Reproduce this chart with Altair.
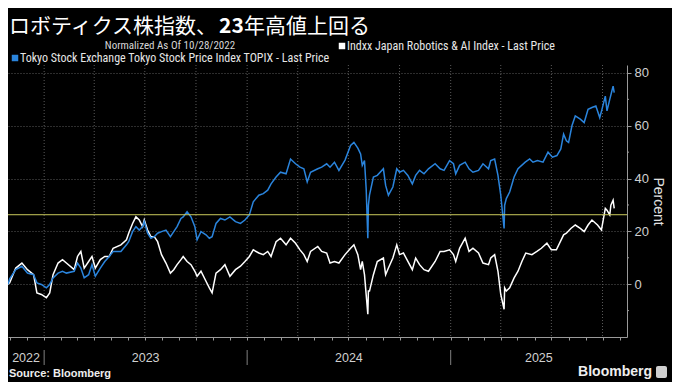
import altair as alt
import pandas as pd

# ---------------- data ----------------
shared_dates = [
    "2022-10-28", "2022-10-31", "2022-11-11", "2022-11-22", "2022-12-02", "2022-12-13",
    "2022-12-19", "2022-12-27", "2023-01-05", "2023-01-11", "2023-01-17", "2023-01-26",
    "2023-02-03", "2023-02-10", "2023-02-24", "2023-03-02", "2023-03-08", "2023-03-14",
    "2023-03-22", "2023-03-28", "2023-04-03", "2023-04-12", "2023-04-20", "2023-04-28",
    "2023-05-05", "2023-05-19", "2023-05-29", "2023-06-02", "2023-06-09", "2023-06-15",
    "2023-06-21", "2023-06-27", "2023-06-30", "2023-07-06", "2023-07-12", "2023-07-18",
    "2023-07-24", "2023-07-31", "2023-08-08", "2023-08-16", "2023-08-22", "2023-08-28",
    "2023-09-04", "2023-09-08", "2023-09-15", "2023-09-22", "2023-09-29", "2023-10-03",
    "2023-10-10", "2023-10-19", "2023-10-25", "2023-10-30", "2023-11-06", "2023-11-14",
    "2023-11-22", "2023-12-01", "2023-12-11", "2023-12-20", "2023-12-28", "2024-01-05",
    "2024-01-12", "2024-01-22", "2024-01-30", "2024-02-07", "2024-02-13", "2024-02-22",
    "2024-03-01", "2024-03-11", "2024-03-19", "2024-03-28", "2024-04-05", "2024-04-12",
    "2024-04-18", "2024-04-24", "2024-05-07", "2024-05-14", "2024-05-23", "2024-05-29",
    "2024-06-06", "2024-06-14", "2024-06-25", "2024-07-05", "2024-07-11", "2024-07-18",
    "2024-07-23", "2024-07-26", "2024-07-30", "2024-08-02", "2024-08-05", "2024-08-06",
    "2024-08-08", "2024-08-15", "2024-08-22", "2024-09-02", "2024-09-06", "2024-09-11",
    "2024-09-19", "2024-09-26", "2024-10-01", "2024-10-08", "2024-10-16", "2024-10-24",
    "2024-10-30", "2024-11-06", "2024-11-14", "2024-11-22", "2024-12-04", "2024-12-13",
    "2024-12-20", "2024-12-30", "2025-01-06", "2025-01-10", "2025-01-17", "2025-01-27",
    "2025-02-03", "2025-02-10", "2025-02-20", "2025-02-28", "2025-03-10", "2025-03-14",
    "2025-03-21", "2025-03-27", "2025-04-01", "2025-04-07", "2025-04-08", "2025-04-11",
    "2025-04-17", "2025-04-25", "2025-05-02",
]
topix_shared = [
    0, 2.0, 5.5, 6.8, 4.2, 3.6,
    0.5, -0.1, -1.4, -0.1, 2.4, 4.2,
    4.9, 4.2, 4.9, 8.0, 6.1, 2.4,
    3.6, 7.4, 3.0, 6.1, 8.6, 10.5,
    12.4, 12.4, 14.9, 16.1, 19.9, 21.8,
    20.5, 21.8, 23.7, 19.3, 17.4, 18.0,
    19.3, 19.9, 20.5, 18.0, 19.9, 21.8,
    24.9, 25.5, 27.4, 25.5, 21.8, 16.8,
    19.9, 18.7, 17.4, 18.0, 23.0, 24.9,
    24.3, 25.5, 23.7, 23.0, 24.3, 26.2,
    31.2, 33.7, 34.3, 35.6, 38.0, 40.6,
    42.4, 41.8, 47.4, 45.6, 44.3, 43.7,
    38.7, 42.4, 43.7, 44.3, 45.6, 44.3,
    46.2, 43.1, 47.0, 52.5, 53.7, 51.5,
    49.3, 45.0, 46.8, 36.2, 17.4, 29.9,
    33.7, 40.6, 41.2, 43.7, 37.4, 33.7,
    36.8, 43.7, 42.4, 43.1, 41.2, 38.0,
    41.2, 43.1, 41.8, 43.7, 45.6, 43.7,
    43.1, 46.8, 45.6, 41.8, 45.0, 46.2,
    43.7, 42.4, 43.1, 45.6, 43.7, 46.8,
    47.4, 41.2, 33.7, 21.1, 29.9, 32.4,
    34.9, 40.6, 43.7,
]
robo_shared = [
    0, 0.5, 6.1, 8.0, 5.5, 3.6,
    -3.3, -3.9, -5.1, -3.3, 3.6, 8.0,
    9.3, 8.0, 5.5, 10.5, 12.4, 6.1,
    8.6, 10.5, 6.1, 9.3, 10.5, 10.5,
    13.6, 14.9, 16.8, 19.3, 23.0, 25.5,
    24.3, 21.8, 24.3, 20.5, 18.0, 18.0,
    16.1, 11.2, 8.0, 4.2, 5.5, 7.4,
    9.3, 10.5, 8.6, 7.4, 4.9, 3.0,
    4.9, 1.1, -1.4, -3.3, 4.2, 5.5,
    7.4, 3.0, 5.5, 6.8, 8.6, 10.5,
    13.0, 11.8, 11.2, 12.4, 10.5, 16.1,
    17.4, 14.9, 17.4, 15.5, 13.0, 11.2,
    8.6, 12.4, 14.3, 12.4, 11.8, 8.0,
    8.6, 8.0, 11.2, 13.6, 14.9, 11.2,
    5.5, 8.6, 3.6, -3.9, -11.4, -2.6,
    -2.6, 3.6, 8.6, 9.9, 3.6, 6.1,
    9.9, 14.9, 11.2, 11.8, 8.6, 5.5,
    9.9, 7.4, 5.5, 4.9, 8.6, 12.4,
    12.4, 13.0, 11.2, 8.6, 13.6, 17.4,
    12.4, 13.6, 11.8, 8.0, 7.4, 9.9,
    11.2, 4.9, -3.9, -9.5, -1.4, -2.6,
    -1.4, 2.4, 4.9,
]
topix_late_dates = [
    "2025-05-15", "2025-05-23", "2025-05-29", "2025-06-06", "2025-06-16", "2025-06-25",
    "2025-07-03", "2025-07-11", "2025-07-18", "2025-07-23", "2025-07-28", "2025-08-01",
    "2025-08-07", "2025-08-13", "2025-08-22", "2025-08-29", "2025-09-05", "2025-09-12",
    "2025-09-19", "2025-09-26", "2025-09-30", "2025-10-06", "2025-10-09", "2025-10-14",
    "2025-10-17", "2025-10-20", "2025-10-22",
]
topix_late = [
    46.2, 47.4, 46.2, 46.8, 46.2, 50.0,
    48.1, 48.7, 51.2, 56.8, 54.3, 53.7,
    60.0, 63.7, 62.5, 61.2, 66.2, 66.9,
    67.5, 63.1, 66.2, 71.2, 65.6, 70.0,
    72.5, 75.0, 72.5,
]
robo_late_dates = [
    "2025-05-09", "2025-05-16", "2025-05-27", "2025-06-05", "2025-06-13", "2025-06-23",
    "2025-07-01", "2025-07-10", "2025-07-23", "2025-07-28", "2025-08-05", "2025-08-13",
    "2025-08-22", "2025-08-29", "2025-09-05", "2025-09-12", "2025-09-22", "2025-09-29",
    "2025-10-06", "2025-10-09", "2025-10-14", "2025-10-16", "2025-10-20", "2025-10-22",
]
robo_late = [
    8.6, 11.8, 11.2, 12.4, 13.6, 15.5,
    13.0, 13.0, 18.7, 19.3, 21.1, 22.4,
    21.1, 19.9, 22.4, 24.3, 22.4, 20.5,
    28.7, 28.0, 26.2, 29.9, 31.8, 28.7,
]
prior_high = [26.3]
y_ticks = [0, 20, 40, 60, 80]
y_minor = [-10, 10, 30, 50, 70]
years = [2022, 2023, 2024, 2025]

title_a, title_b, title_c = "ロボティクス株指数、", "23", "年高値上回る"
subtitle = "Normalized As Of 10/28/2022"
robo_name = "Indxx Japan Robotics & AI Index - Last Price"
topix_name = "Tokyo Stock Exchange Tokyo Stock Price Index TOPIX - Last Price"
source_text = "Source: Bloomberg"
brand_text = "Bloomberg"
y_title = "Percent"

# ---------------- layout / style ----------------
TOP = 57
W, H = 619, 272
BLUE = "#2a84dc"
WHITE = "#ffffff"
YELLOW = "#c9c95c"
GRID = "#5a5a5a"
AXIS = "#9a9a9a"
CJK = "Noto Sans CJK JP"
NARROW = "Liberation Sans Narrow, Roboto Condensed, Arial Narrow, Liberation Sans, sans-serif"
SANS = "Liberation Sans, Arial, sans-serif"

d0 = pd.Timestamp("2022-10-28")
d1 = pd.Timestamp("2025-11-14")

topix = pd.DataFrame({"date": pd.to_datetime(shared_dates + topix_late_dates),
                      "value": topix_shared + topix_late})
robo = pd.DataFrame({"date": pd.to_datetime(shared_dates + robo_late_dates),
                     "value": robo_shared + robo_late})


def dt(ts):
    return alt.DateTime(year=ts.year, month=ts.month, date=ts.day)


months = pd.date_range(d0, d1, freq="MS")
quarters = pd.date_range("2023-01-01", d1, freq="QS")
year_starts = [pd.Timestamp(f"{y}-01-01") for y in years[1:]]
year_centers = []
for y in years:
    a = max(d0, pd.Timestamp(f"{y}-01-01"))
    b = min(d1, pd.Timestamp(f"{y + 1}-01-01"))
    year_centers.append(a + (b - a) / 2)

xscale = alt.Scale(domain=[dt(d0), dt(d1)], nice=False)
xaxis = alt.Axis(title=None, labels=False, grid=False, values=[dt(m) for m in months],
                 tickSize=3, tickColor=AXIS, domainColor=AXIS, domainWidth=1)
yscale = alt.Scale(domain=[-20, 83], nice=False, zero=False)
yaxis = alt.Axis(orient="right", values=y_ticks, title=y_title, grid=True,
                 gridColor=GRID, gridDash=[1, 2], gridWidth=1,
                 tickSize=4, tickColor=AXIS, domainColor=AXIS,
                 labelColor="#d0d0d0", labelFontSize=13, labelFont=SANS, labelPadding=3,
                 titleColor="#e0e0e0", titleFontSize=14, titleFont=SANS,
                 titleFontWeight="normal", titlePadding=2)


def X():
    return alt.X("date:T", scale=xscale, axis=xaxis)


def Y():
    return alt.Y("value:Q", scale=yscale, axis=yaxis)


def txt(s, x, y, size=11, color="#dcdcdc", weight="normal", align="left", font=SANS,
        baseline="middle"):
    return alt.Chart(pd.DataFrame({"t": [s]})).mark_text(
        align=align, baseline=baseline, fontSize=size, fontWeight=weight,
        color=color, font=font).encode(x=alt.value(x), y=alt.value(y), text="t:N")


qgrid = alt.Chart(pd.DataFrame({"date": quarters})).mark_rule(
    color=GRID, strokeDash=[1, 2], strokeWidth=1).encode(x=X())

robo_line = alt.Chart(robo).mark_line(color=WHITE, strokeWidth=1.5).encode(x=X(), y=Y())
topix_line = alt.Chart(topix).mark_line(color=BLUE, strokeWidth=1.5).encode(x=X(), y=Y())

high_rule = alt.Chart(pd.DataFrame({"value": prior_high})).mark_rule(
    color=YELLOW, strokeWidth=1).encode(y=Y())

minor = alt.Chart(pd.DataFrame({"value": y_minor})).mark_rule(
    color=AXIS, strokeWidth=1).encode(y=Y(), x=alt.value(W), x2=alt.value(W + 2))

year_lbl = alt.Chart(pd.DataFrame({"date": year_centers, "label": [str(y) for y in years]})).mark_text(
    baseline="middle", align="center", fontSize=12.5, color="#d0d0d0", font=SANS
).encode(x=X(), y=alt.value(H + 21), text="label:N")

year_sep = alt.Chart(pd.DataFrame({"date": year_starts})).mark_rule(
    color="#808080", strokeWidth=1).encode(x=X(), y=alt.value(H + 13), y2=alt.value(H + 28))

TS = 21
TY = 25 - TOP
title_layers = [
    txt(title_a, 1, TY, size=TS, color="#ffffff", font=CJK, baseline="alphabetic"),
    txt(title_b, 1 + 10 * TS, TY, size=TS, color="#ffffff", font=CJK, weight="bold",
        baseline="alphabetic"),
    txt(title_c, 1 + 10 * TS + 25, TY, size=TS, color="#ffffff", font=CJK, baseline="alphabetic"),
]

R1, R2 = 38 - TOP, 50 - TOP
legend_layers = [
    txt(subtitle, 162, R1, size=11, font=NARROW, align="center", color="#d6d6d6"),
    alt.Chart(pd.DataFrame({"k": [0]})).mark_square(color=WHITE, size=42, opacity=1).encode(
        x=alt.value(334), y=alt.value(R1)),
    txt(robo_name, 339, R1, size=12, font=NARROW, color="#e6e6e6"),
    alt.Chart(pd.DataFrame({"k": [0]})).mark_square(color=BLUE, size=42, opacity=1).encode(
        x=alt.value(7), y=alt.value(R2)),
    txt(topix_name, 12, R2, size=12, font=NARROW, color="#e6e6e6"),
]

footer_layers = [
    txt(source_text, 1, H + 37, size=11, weight="bold", color="#eeeeee"),
    txt(brand_text, 644, H + 35, size=14, weight="bold", color="#eeeeee", align="right"),
    alt.Chart(pd.DataFrame({"k": [0]})).mark_rect(color="#cfcfcf", cornerRadius=2).encode(
        x=alt.value(648), x2=alt.value(659), y=alt.value(H + 29), y2=alt.value(H + 41)),
]

chart = alt.layer(
    qgrid, robo_line, topix_line, high_rule, minor, year_sep, year_lbl,
    *title_layers, *legend_layers, *footer_layers,
).properties(
    width=W, height=H, background="#000000",
    padding={"left": 0, "top": TOP, "right": 45, "bottom": 374 - TOP - H},
    autosize=alt.AutoSizeParams(type="none"),
).configure_view(stroke=None)

chart.save("out.html", embed_options={"renderer": "svg", "actions": False})
